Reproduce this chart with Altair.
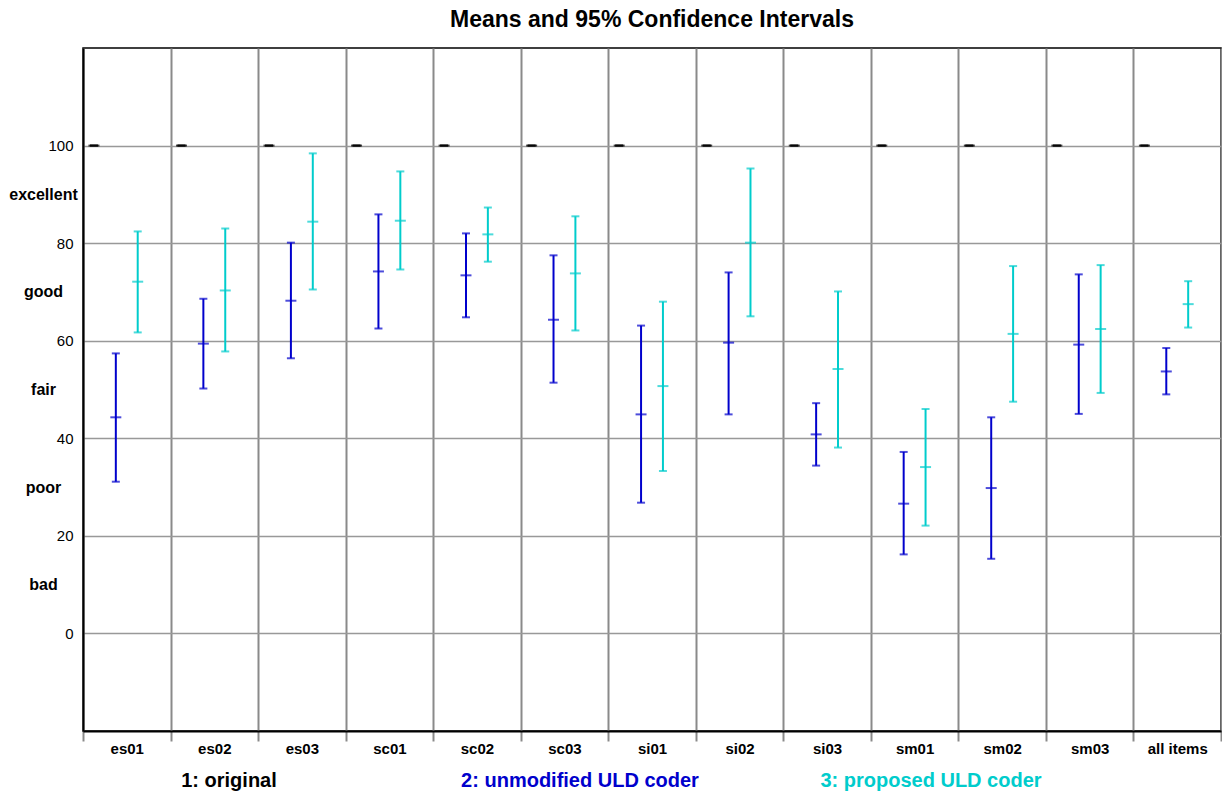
import altair as alt
import pandas as pd

items = ["es01", "es02", "es03", "sc01", "sc02", "sc03", "si01", "si02",
         "si03", "sm01", "sm02", "sm03", "all items"]
series = ["1: original", "2: unmodified ULD coder", "3: proposed ULD coder"]
colors = ["#000000", "#0000CC", "#00CCCC"]

orig_mean = [100, 100, 100, 100, 100, 100, 100, 100, 100, 100, 100, 100, 100]
orig_lo = [100, 100, 100, 100, 100, 100, 100, 100, 100, 100, 100, 100, 100]
orig_hi = [100, 100, 100, 100, 100, 100, 100, 100, 100, 100, 100, 100, 100]

unmod_mean = [44.3, 59.4, 68.2, 74.2, 73.4, 64.3, 44.9, 59.6, 40.8, 26.6, 29.8, 59.2, 53.7]
unmod_lo = [31.1, 50.2, 56.4, 62.5, 64.8, 51.4, 26.8, 44.9, 34.4, 16.2, 15.3, 45.0, 49.0]
unmod_hi = [57.4, 68.6, 80.1, 85.9, 82.0, 77.5, 63.1, 74.0, 47.2, 37.2, 44.3, 73.6, 58.5]

prop_mean = [72.1, 70.3, 84.4, 84.6, 81.8, 73.8, 50.7, 80.1, 54.2, 34.1, 61.4, 62.4, 67.5]
prop_lo = [61.7, 57.8, 70.5, 74.6, 76.2, 62.1, 33.3, 65.0, 38.1, 22.1, 47.5, 49.3, 62.7]
prop_hi = [82.4, 83.0, 98.4, 94.7, 87.3, 85.5, 68.0, 95.3, 70.1, 46.0, 75.3, 75.5, 72.2]

quality_labels = ["bad", "poor", "fair", "good", "excellent"]
y_ticks = [0, 10, 20, 30, 40, 50, 60, 70, 80, 90, 100]

rows = []
for s, m, lo, hi in [(series[0], orig_mean, orig_lo, orig_hi),
                     (series[1], unmod_mean, unmod_lo, unmod_hi),
                     (series[2], prop_mean, prop_lo, prop_hi)]:
    for i, it in enumerate(items):
        rows.append({"item": it, "series": s, "mean": m[i], "lo": lo[i], "hi": hi[i]})
df = pd.DataFrame(rows)

legend_df = pd.DataFrame({"series": series, "idx": list(range(len(series)))})

W, H = 1138, 683
FONT = "Liberation Sans"

label_expr = ("datum.value % 20 == 10 ? "
              "['" + "','".join(quality_labels) + "'][floor(datum.value / 20)] : datum.label")
is_word = "datum.value % 20 == 10"

x_enc = alt.X("item:N", sort=items,
              scale=alt.Scale(paddingInner=0, paddingOuter=0),
              axis=alt.Axis(title=None, labelAngle=0, labelFontWeight="bold",
                            labelFontSize=15, labelFont=FONT, labelColor="black",
                            domainColor="black", domainWidth=2,
                            grid=True, gridColor="#8a8a8a", gridWidth=2,
                            tickBand="extent", tickColor="#8a8a8a", tickWidth=2,
                            tickSize=10, labelPadding=0))
xoff_enc = alt.XOffset("series:N", sort=series,
                       scale=alt.Scale(domain=series, paddingInner=0,
                                       paddingOuter=0.5, align=0))
y_axis = alt.Axis(title=None, values=y_ticks, labelExpr=label_expr,
                  ticks=False, domainColor="black", domainWidth=2,
                  labelFont=FONT, labelColor="black",
                  labelFontSize={"condition": {"test": is_word, "value": 16}, "value": 15},
                  labelFontWeight={"condition": {"test": is_word, "value": "bold"}, "value": "normal"},
                  labelAlign={"condition": {"test": is_word, "value": "center"}, "value": "right"},
                  labelPadding={"condition": {"test": is_word, "value": 40}, "value": 10},
                  gridColor="#999999", gridWidth=1.5,
                  gridOpacity={"condition": {"test": is_word, "value": 0}, "value": 1})
y_scale = alt.Scale(domain=[-20, 120], nice=False, zero=False)
color_enc = alt.Color("series:N", scale=alt.Scale(domain=series, range=colors), legend=None)

base = alt.Chart(df).encode(x=x_enc, xOffset=xoff_enc, color=color_enc)

rules = base.mark_rule(strokeWidth=2).encode(
    y=alt.Y("lo:Q", scale=y_scale, axis=y_axis), y2="hi:Q")
cap_lo = base.mark_tick(size=8, thickness=2).encode(y=alt.Y("lo:Q", scale=y_scale))
cap_hi = base.mark_tick(size=8, thickness=2).encode(y=alt.Y("hi:Q", scale=y_scale))
mean_tick = base.mark_tick(size=11, thickness=2).encode(y=alt.Y("mean:Q", scale=y_scale))

bars = alt.layer(rules, cap_lo, cap_hi, mean_tick)

legend_text = alt.Chart(legend_df).mark_text(
    fontSize=20, fontWeight="bold", font=FONT, baseline="middle", align="center"
).encode(
    x=alt.X("idx:Q", scale=alt.Scale(domain=[0, 2], range=[146, 848]), axis=None),
    y=alt.value(H + 50),
    text=alt.Text("series:N"),
    color=color_enc,
)

chart = alt.layer(bars, legend_text).resolve_scale(
    x="independent"
).resolve_axis(x="independent").properties(
    width=W, height=H,
    title=alt.TitleParams("Means and 95% Confidence Intervals", fontSize=23,
                          fontWeight="bold", font=FONT, anchor="middle",
                          offset=16, color="black"),
    padding={"left": 0, "top": 1, "right": 0, "bottom": 0},
    background="white",
).configure_view(stroke="black", strokeWidth=1.5)

chart.save("out.html", embed_options={"renderer": "svg", "actions": False})
